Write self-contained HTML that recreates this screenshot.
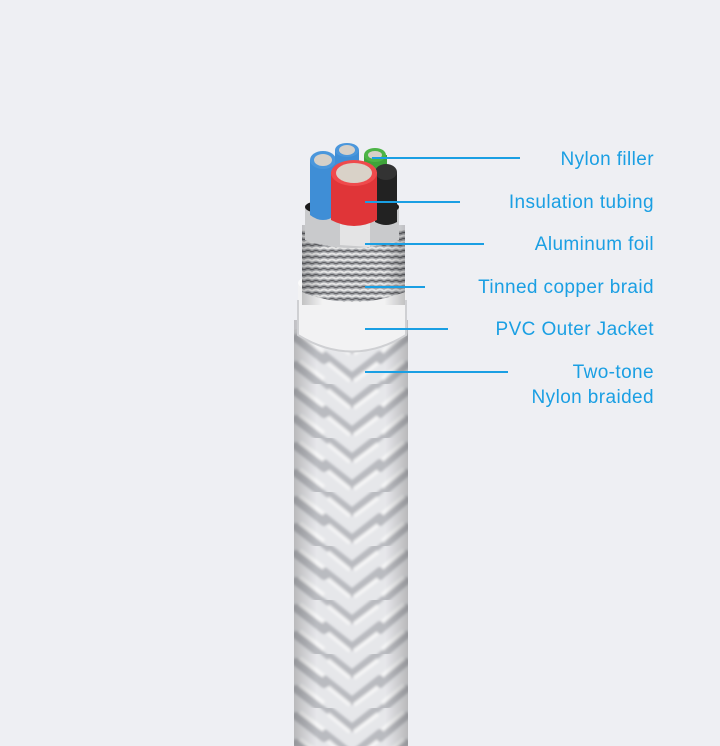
<!DOCTYPE html>
<html><head><style>
html,body{margin:0;padding:0;background:#eeeff3;}
svg{display:block}
text{font-family:"Liberation Sans",sans-serif;font-size:19px;fill:#1a9fe3;letter-spacing:0.4px;}
</style></head><body>
<svg width="720" height="746" viewBox="0 0 720 746">
<defs>
<filter id="bl"><feGaussianBlur stdDeviation="1.2"/></filter>
<pattern id="br" x="294" y="330" width="114" height="54" patternUnits="userSpaceOnUse">
<rect width="114" height="54" fill="#e6e7ea"/>
<g filter="url(#bl)">
<g fill="none" stroke="#8e9096" stroke-width="8" stroke-linecap="round" opacity="0.5">
<path d="M2 8 L30 30 M30 -2 L58 20 M58 20 L86 -2 M86 30 L112 8"/>
<path d="M2 35 L30 57 M30 25 L58 47 M58 47 L86 25 M86 57 L112 35"/>
</g>
<g fill="none" stroke="#fafafa" stroke-width="4" opacity="0.8">
<path d="M6 4 L30 22 M34 6 L56 24 M60 24 L84 6 M88 22 L110 4"/>
<path d="M6 31 L30 49 M34 33 L56 51 M60 51 L84 33 M88 49 L110 31"/>
</g>
</g>
</pattern>
<linearGradient id="sh" x1="0" x2="1">
<stop offset="0" stop-color="#000" stop-opacity="0.2"/>
<stop offset="0.2" stop-color="#000" stop-opacity="0"/>
<stop offset="0.8" stop-color="#000" stop-opacity="0"/>
<stop offset="1" stop-color="#000" stop-opacity="0.2"/>
</linearGradient>
<pattern id="cu" width="8" height="6" patternUnits="userSpaceOnUse">
<rect width="8" height="6" fill="#a2a4a8"/>
<path d="M0 3 Q4 0 8 3" stroke="#e6e6e6" stroke-width="2" fill="none"/>
<path d="M0 6 Q4 3 8 6" stroke="#5a5a5e" stroke-width="1" fill="none"/>
</pattern>
</defs>
<path d="M294 330 Q351 305 408 330 L408 746 L294 746 Z" fill="url(#br)"/>
<rect x="294" y="320" width="114" height="426" fill="url(#sh)"/>
<path d="M298 282 L298 335 Q352 368 406 335 L406 282 Z" fill="#f2f2f3"/>
<path d="M298 300 L298 335 Q352 368 406 335 L406 300" fill="none" stroke="#cfd0d3" stroke-width="2"/>
<ellipse cx="352" cy="283" rx="54" ry="12" fill="#fbfbfb"/>
<path d="M302 230 L302 292 Q352 312 405 292 L405 230 Z" fill="url(#cu)"/>
<rect x="302" y="225" width="103" height="80" fill="url(#sh)"/>
<path d="M305 205 L305 240 Q352 256 399 240 L399 205 Z" fill="#c9cacc"/>
<path d="M340 210 L340 245 L370 247 L370 210 Z" fill="#efefef" opacity="0.7"/>
<ellipse cx="352" cy="207" rx="47" ry="10" fill="#1a1a1a"/>
<path d="M310 160 L310 215 Q323 225 336 215 L336 160 Z" fill="#3f8ed6"/>
<ellipse cx="323" cy="160" rx="13" ry="9" fill="#4b97dc"/>
<ellipse cx="323" cy="160" rx="9" ry="6" fill="#d6d0c8"/>
<path d="M335 150 L335 170 L359 170 L359 150 Z" fill="#3f8ed6"/>
<ellipse cx="347" cy="150" rx="12" ry="7" fill="#4b97dc"/>
<ellipse cx="347" cy="150" rx="8" ry="5" fill="#d6d0c8"/>
<path d="M364 155 L364 175 L387 175 L387 155 Z" fill="#3fa33a"/>
<ellipse cx="375" cy="155" rx="11" ry="7" fill="#4cb446"/>
<ellipse cx="375" cy="155" rx="7" ry="4" fill="#d6d0c8"/>
<path d="M375 172 L375 222 Q386 228 397 222 L397 172 Z" fill="#222"/>
<ellipse cx="386" cy="172" rx="11" ry="8" fill="#333"/>
<path d="M331 172 L331 220 Q354 232 377 220 L377 172 Z" fill="#e03538"/>
<ellipse cx="354" cy="173" rx="23" ry="13" fill="#ef4a4c"/>
<ellipse cx="354" cy="173" rx="18" ry="10" fill="#d9d2c8"/>
<g stroke="#1a9fe3" stroke-width="2">
<line x1="372" y1="158" x2="520" y2="158"/>
<line x1="365" y1="202" x2="460" y2="202"/>
<line x1="365" y1="244" x2="484" y2="244"/>
<line x1="365" y1="287" x2="425" y2="287"/>
<line x1="365" y1="329" x2="448" y2="329"/>
<line x1="365" y1="372" x2="508" y2="372"/>
</g>
<g text-anchor="end">
<text x="654" y="165">Nylon filler</text>
<text x="654" y="208">Insulation tubing</text>
<text x="654" y="250">Aluminum foil</text>
<text x="654" y="293">Tinned copper braid</text>
<text x="654" y="335">PVC Outer Jacket</text>
<text x="654" y="378">Two-tone</text>
<text x="654" y="403">Nylon braided</text>
</g>
</svg>
</body></html>
